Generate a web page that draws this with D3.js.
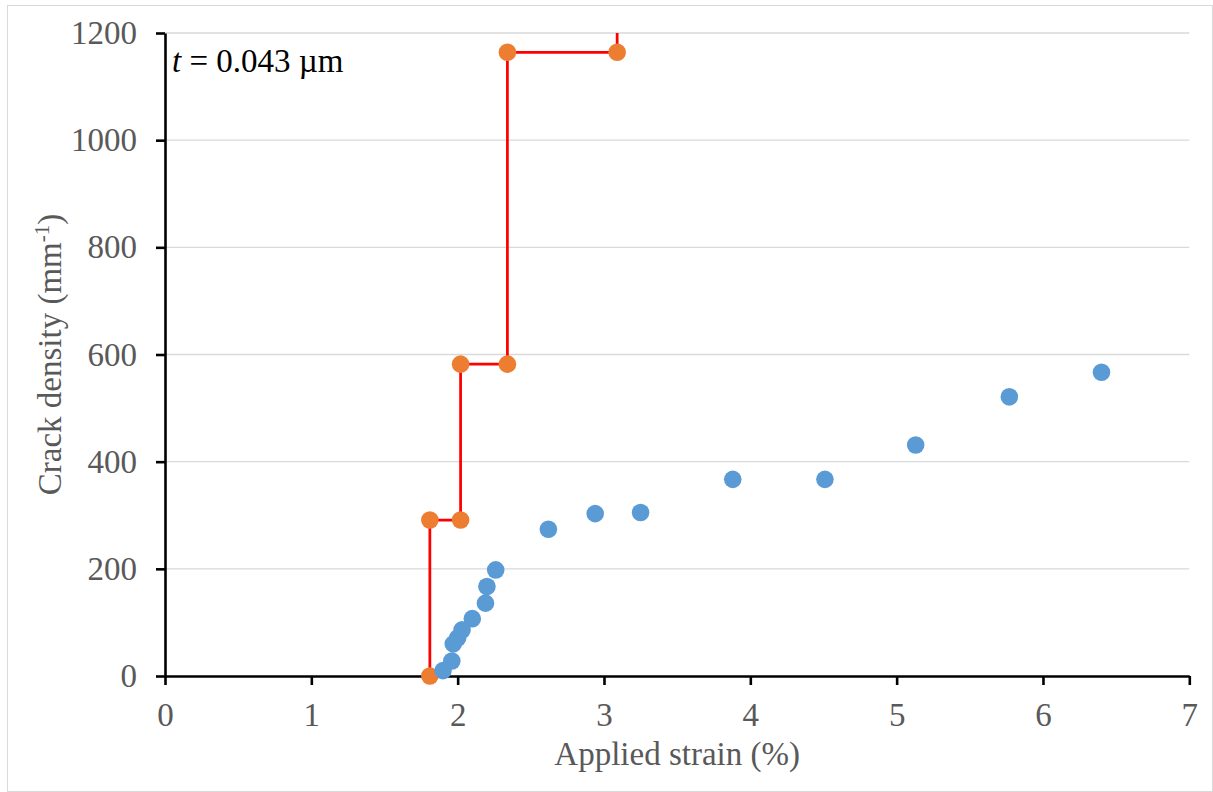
<!DOCTYPE html>
<html>
<head>
<meta charset="utf-8">
<script src="https://cdn.jsdelivr.net/npm/d3@7"></script>
<style>
  html, body { margin: 0; padding: 0; background: #fff; }
  svg { display: block; }
  text { font-family: "Liberation Serif", "Times New Roman", serif; }
</style>
</head>
<body>
<script>
// Measured crack density vs applied strain
const measuredStrain  = [1.90, 1.96, 1.97, 2.00, 2.03, 2.10, 2.19, 2.20, 2.26, 2.62, 2.94, 3.25, 3.88, 4.51, 5.13, 5.77, 6.40];
const measuredDensity = [10, 28, 60, 71, 86, 107, 136, 167, 198, 274, 303, 305, 367, 367, 431, 521, 567];

// Model: stepwise doubling of crack density
const modelStrain  = [1.81, 1.81, 2.02, 2.02, 2.34, 2.34, 3.09, 3.09];
const modelDensity = [0, 291, 291, 582, 582, 1164, 1164, 2328];

const xTicks = [0, 1, 2, 3, 4, 5, 6, 7];
const yTicks = [0, 200, 400, 600, 800, 1000, 1200];

const xTitle = "Applied strain (%)";
const yTitle = "Crack density (mm";
const yTitleSup = "-1";
const yTitleEnd = ")";

const W = 1213, H = 792;
const m = { left: 165, right: W - 1189.3, top: 33, bottom: H - 676 };
const FONT = "33px";

const svg = d3.select("body").append("svg").attr("width", W).attr("height", H);

// outer chart border
svg.append("rect")
  .attr("x", 7.5).attr("y", 5.5)
  .attr("width", W - 8).attr("height", H - 6)
  .attr("fill", "none").attr("stroke", "#d9d9d9").attr("stroke-width", 1);

const x = d3.scaleLinear().domain([0, 7]).range([m.left, W - m.right]);
const y = d3.scaleLinear().domain([0, 1200]).range([H - m.bottom, m.top]);

svg.append("defs").append("clipPath").attr("id", "plot")
  .append("rect")
  .attr("x", m.left).attr("y", m.top)
  .attr("width", x(7) - x(0)).attr("height", y(0) - y(1200));

// horizontal gridlines
svg.append("g")
  .selectAll("line")
  .data(yTicks.filter(d => d > 0))
  .join("line")
  .attr("x1", x(0)).attr("x2", x(7))
  .attr("y1", d => y(d)).attr("y2", d => y(d))
  .attr("stroke", "#d9d9d9").attr("stroke-width", 1.3);

// model step line
const modelPts = modelStrain.map((s, i) => [s, modelDensity[i]]);
svg.append("path")
  .datum(modelPts)
  .attr("clip-path", "url(#plot)")
  .attr("fill", "none")
  .attr("stroke", "#ff0000")
  .attr("stroke-width", 2.75)
  .attr("d", d3.line().x(d => x(d[0])).y(d => y(d[1])));

// axes
const axisStyle = g => {
  g.select(".domain").attr("stroke", "#000").attr("stroke-width", 2.6);
  g.selectAll(".tick line").attr("stroke", "#000").attr("stroke-width", 2.6);
  g.selectAll(".tick text")
    .attr("fill", "#595959")
    .style("font-size", FONT)
    .style("font-family", "'Liberation Serif', 'Times New Roman', serif");
};

svg.append("g")
  .attr("transform", `translate(0,${y(0)})`)
  .call(d3.axisBottom(x).tickValues(xTicks).tickFormat(d3.format("d"))
    .tickSize(9).tickSizeOuter(0).tickPadding(18))
  .call(axisStyle);

svg.append("g")
  .attr("transform", `translate(${x(0)},0)`)
  .call(d3.axisLeft(y).tickValues(yTicks).tickFormat(d3.format("d"))
    .tickSize(9).tickSizeOuter(0).tickPadding(19))
  .call(axisStyle);

// model markers (only those inside the plotted range)
svg.append("g")
  .selectAll("circle")
  .data(modelPts.filter(d => d[1] <= 1200))
  .join("circle")
  .attr("cx", d => x(d[0])).attr("cy", d => y(d[1]))
  .attr("r", 8.8)
  .attr("fill", "#ed7d31");

// measured markers
svg.append("g")
  .selectAll("circle")
  .data(measuredStrain.map((s, i) => [s, measuredDensity[i]]))
  .join("circle")
  .attr("cx", d => x(d[0])).attr("cy", d => y(d[1]))
  .attr("r", 8.8)
  .attr("fill", "#5b9bd5");

// axis titles
svg.append("text")
  .attr("x", (x(0) + x(7)) / 2).attr("y", 765)
  .attr("text-anchor", "middle")
  .attr("fill", "#595959")
  .style("font-size", FONT)
  .text(xTitle);

const yt = svg.append("text")
  .attr("transform", `translate(61,${(y(0) + y(1200)) / 2}) rotate(-90)`)
  .attr("text-anchor", "middle")
  .attr("fill", "#595959")
  .style("font-size", FONT);
yt.append("tspan").text(yTitle);
yt.append("tspan").attr("dy", -12).style("font-size", "21px").text(yTitleSup);
yt.append("tspan").attr("dy", 12).text(yTitleEnd);

// thickness annotation
const ann = svg.append("text")
  .attr("x", 172).attr("y", 72)
  .attr("fill", "#000")
  .style("font-size", FONT);
ann.append("tspan").style("font-style", "italic").text("t");
ann.append("tspan").text(" = 0.043 µm");
</script>
</body>
</html>
